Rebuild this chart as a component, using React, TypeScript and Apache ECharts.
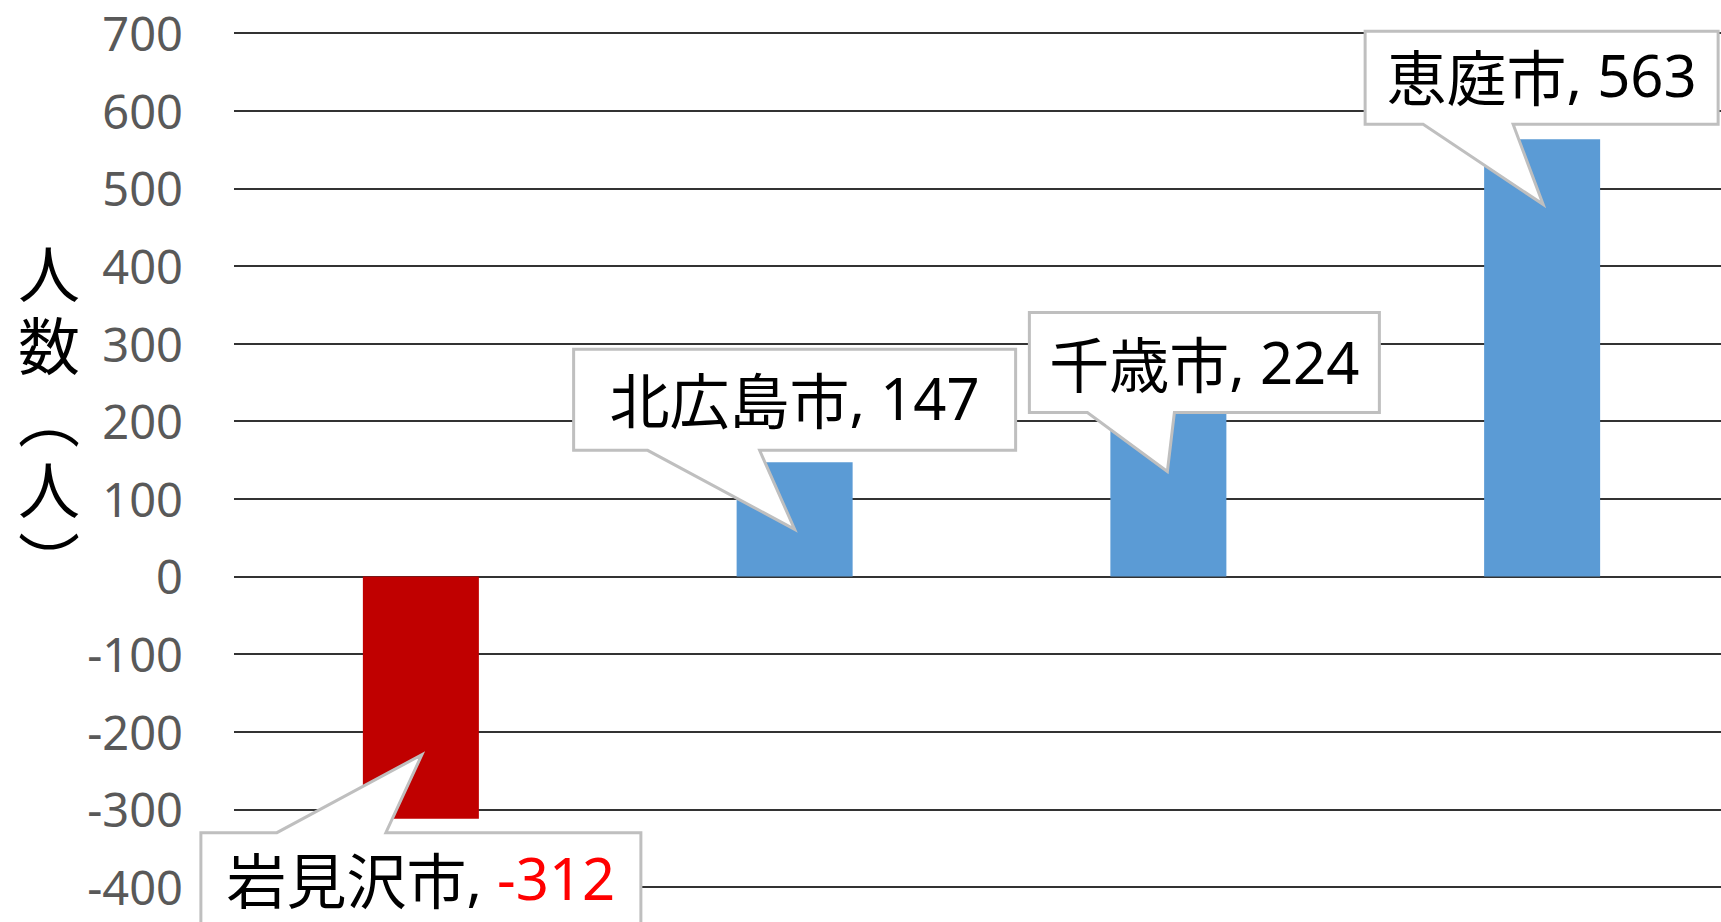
import React, { useEffect, useRef } from "react";
import * as echarts from "echarts";

// ---- data ----
const categories: string[] = ["岩見沢市", "北広島市", "千歳市", "恵庭市"];
const values: number[] = [-312, 147, 224, 563];
const yMin = -400;
const yMax = 700;
const yStep = 100;
const yAxisTitle: string[] = ["人", "数", "︵", "人", "︶"];

// ---- styles / layout (pixel offsets of each callout relative to its bar end) ----
const calloutLayout = [
  { dx: -220, dy: 14, w: 440, h: 100, p1: -144, p2: -35, tx: 1, ty: -64, textDy: -5 },
  { dx: -221, dy: -113, w: 442, h: 101, p1: -147, p2: -35, tx: 0, ty: 67, textDy: -2 },
  { dx: -139, dy: -90, w: 350, h: 100, p1: -81, p2: 6, tx: -1, ty: 69, textDy: -1 },
  { dx: -177, dy: -108, w: 353, h: 93, p1: -119, p2: -29, tx: 1, ty: 65, textDy: -3 },
];
const POS_COLOR = "#5b9bd5";
const NEG_COLOR = "#c00000";
const CJK = '"Noto Sans CJK JP", "Noto Sans", sans-serif';
const LATIN = '"Noto Sans", sans-serif';
const TITLE_TOP = 235;
const TITLE_PITCH = 72;

export default function App() {
  const ref = useRef<HTMLDivElement>(null);
  useEffect(() => {
    if (!ref.current) return;
    const chart = echarts.init(ref.current, null, { renderer: "svg" });
    const option: any = {
      animation: false,
      backgroundColor: "#ffffff",
      grid: {
        left: 234,
        top: 33,
        width: 1495,
        bottom: 35,
        containLabel: false,
        outerBoundsMode: "none",
      },
      xAxis: {
        type: "category",
        data: categories,
        axisLabel: { show: false },
        axisLine: { show: false },
        axisTick: { show: false },
        splitLine: { show: false },
      },
      yAxis: {
        type: "value",
        min: yMin,
        max: yMax,
        interval: yStep,
        axisLine: { show: false },
        axisTick: { show: false },
        axisLabel: {
          color: "#595959",
          fontSize: 47,
          fontFamily: LATIN,
          margin: 51,
        },
        splitLine: { lineStyle: { color: "#333333", width: 2 } },
      },
      graphic: yAxisTitle.map((ch, k) => ({
        type: "text",
        x: 49,
        y: TITLE_TOP + k * TITLE_PITCH + TITLE_PITCH / 2,
        style: {
          text: ch,
          font: `62px ${CJK}`,
          lineHeight: 62,
          fill: "#000000",
          align: "center",
          verticalAlign: "middle",
        },
      })),
      series: [
        {
          type: "bar",
          barWidth: 116,
          z: 2,
          data: values.map((v) => ({
            value: v,
            itemStyle: { color: v < 0 ? NEG_COLOR : POS_COLOR },
          })),
        },
        {
          type: "custom",
          z: 5,
          clip: false,
          encode: { x: 0, y: 1 },
          data: values.map((v, i) => [i, v]),
          renderItem: (params: any, api: any) => {
            const idx = params.dataIndex;
            const i = api.value(0);
            const v = api.value(1);
            const pt = api.coord([i, v]);
            const c = calloutLayout[idx];
            const L = pt[0] + c.dx;
            const T = pt[1] + c.dy;
            const R = L + c.w;
            const B = T + c.h;
            const tip = [pt[0] + c.tx, pt[1] + c.ty];
            let pts: number[][];
            if (c.ty < 0) {
              pts = [[L, T], [pt[0] + c.p1, T], tip, [pt[0] + c.p2, T], [R, T], [R, B], [L, B]];
            } else {
              pts = [[L, T], [R, T], [R, B], [pt[0] + c.p2, B], tip, [pt[0] + c.p1, B], [L, B]];
            }
            const valKey = v < 0 ? "neg" : "pos";
            return {
              type: "group",
              children: [
                {
                  type: "polygon",
                  shape: { points: pts },
                  style: { fill: "#ffffff", stroke: "#bfbfbf", lineWidth: 3, lineJoin: "miter" },
                },
                {
                  type: "text",
                  style: {
                    text: `{n|${categories[idx]}}{c|, }{${valKey}|${v}}`,
                    x: (L + R) / 2,
                    y: (T + B) / 2 + c.textDy,
                    align: "center",
                    verticalAlign: "middle",
                    rich: {
                      n: { fill: "#000000", fontSize: 60, fontFamily: CJK, lineHeight: 60 },
                      c: { fill: "#000000", fontSize: 58, fontFamily: LATIN, lineHeight: 60 },
                      pos: { fill: "#000000", fontSize: 58, fontFamily: LATIN, lineHeight: 60 },
                      neg: { fill: "#ff0000", fontSize: 58, fontFamily: LATIN, lineHeight: 60 },
                    },
                  },
                },
              ],
            };
          },
        },
      ],
    };
    chart.setOption(option);
    return () => chart.dispose();
  }, []);
  return (
    <div
      ref={ref}
      style={{ position: "fixed", left: 0, top: 0, width: 1721, height: 922, background: "#fff" }}
    />
  );
}
